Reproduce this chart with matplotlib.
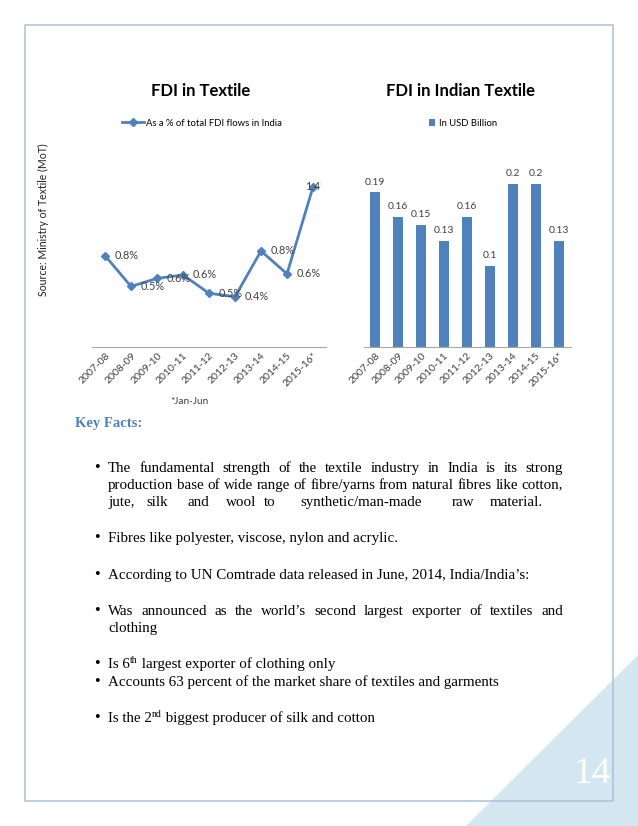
import matplotlib
matplotlib.use("Agg")
import matplotlib.pyplot as plt
from matplotlib.patches import Rectangle, Polygon

# chart data
years = ["2007-08", "2008-09", "2009-10", "2010-11", "2011-12",
         "2012-13", "2013-14", "2014-15", "2015-16*"]
fdi_share = [0.80, 0.53, 0.60, 0.63, 0.47, 0.44, 0.84, 0.64, 1.40]   # % of total FDI flows
fdi_usd = [0.19, 0.16, 0.15, 0.13, 0.16, 0.10, 0.20, 0.20, 0.13]     # USD billion

W, H = 638, 826
BLUE = "#4f81bd"
SANS = ["Lato", "DejaVu Sans"]
SERIF = ["Liberation Serif", "DejaVu Serif"]

fig = plt.figure(figsize=(W / 100, H / 100), dpi=100)


def fx(x):
    return x / W


def fy(y):
    return 1 - y / H


def box(l, t, r, b):
    return [fx(l), fy(b), (r - l) / W, (b - t) / H]


# page decoration
fig.patches.append(Polygon([(fx(638), fy(655)), (fx(466), fy(826)), (fx(638), fy(826))],
                           closed=True, transform=fig.transFigure,
                           facecolor="#d2e7f0", edgecolor="none", zorder=0))
fig.patches.append(Rectangle((fx(25), fy(801)), (613 - 25) / W, (801 - 25) / H,
                             transform=fig.transFigure, fill=False,
                             edgecolor="#a9c1de", lw=1.1, zorder=1))
fig.text(fx(611), fy(783), "14", color="white", fontsize=27, family=SERIF,
         ha="right", va="baseline")

# ---- left chart: line
ax1 = fig.add_axes(box(92, 140, 326, 347))
x = list(range(len(years)))
ax1.plot(x, fdi_share, color=BLUE, lw=2, marker="D", ms=4.5,
         label="As a % of total FDI flows in India")
ax1.set_xlim(-0.5, len(years) - 0.5)
ax1.set_ylim(0, 207 / 114.3)
clip = Rectangle((fx(92), fy(400)), (321 - 92) / W, 300 / H,
                 transform=fig.transFigure, visible=False)
fig.patches.append(clip)
for i, v in enumerate(fdi_share):
    dx = 7 if i < len(years) - 1 else -6
    t = ax1.annotate(f"{v:.1f}%", (i, v), xytext=(dx, 0), textcoords="offset points",
                     va="center", ha="left", fontsize=7.8, family=SANS, color="#404040",
                     annotation_clip=False)
    t.set_clip_path(clip)
    t.set_clip_on(True)
ax1.set_title("FDI in Textile", fontsize=12, fontweight="bold", family=SANS,
              pad=0, x=(201 - 92) / 234, y=1 + 44 / 207)
ax1.legend(loc="center", bbox_to_anchor=(fx(202), fy(123)), bbox_transform=fig.transFigure,
           frameon=False, prop={"family": SANS, "size": 6.8}, handlelength=2.4,
           handletextpad=0.2)

# ---- right chart: bars
ax2 = fig.add_axes(box(363.5, 140, 570.5, 347))
bars = ax2.bar(x, fdi_usd, width=0.4, color=BLUE, label="In USD Billion")
ax2.set_xlim(-0.5, len(years) - 0.5)
ax2.set_ylim(0, 207 / 815)
ax2.bar_label(bars, labels=[f"{v:g}" for v in fdi_usd], padding=4, fontsize=7.5,
              family=SANS, color="#404040")
ax2.set_title("FDI in Indian Textile", fontsize=12, fontweight="bold", family=SANS,
              pad=0, x=(461 - 363.5) / 207, y=1 + 44 / 207)
ax2.legend(loc="center", bbox_to_anchor=(fx(463), fy(123)), bbox_transform=fig.transFigure,
           frameon=False, prop={"family": SANS, "size": 6.8}, handlelength=0.7,
           handleheight=0.7, handletextpad=0.4)

for ax in (ax1, ax2):
    for s in ("left", "right", "top"):
        ax.spines[s].set_visible(False)
    ax.spines["bottom"].set_color("#a6a6a6")
    ax.spines["bottom"].set_linewidth(0.8)
    ax.set_yticks([])
    ax.set_xticks(x)
    ax.set_xticklabels(years, rotation=45, ha="right", rotation_mode="anchor",
                       fontsize=7.5, family=SANS, color="#404040")
    ax.tick_params(axis="x", length=0, pad=3)
    ax.set_facecolor("none")

fig.text(fx(190), fy(402), "*Jan-Jun", ha="center", va="center", fontsize=7.2,
         family=SANS, color="#404040")
fig.text(fx(43), fy(220), "Source: Ministry of Textile (MoT)", rotation=90,
         ha="center", va="center", fontsize=7.6, family=SANS, color="#202020")

# ---- text block
renderer = fig.canvas.get_renderer()
BODY = 10.8


def width(t):
    return t.get_window_extent(renderer).width


def runs(xpos, y, parts):
    # parts: (text, size, raise in px)
    for txt, size, up in parts:
        t = fig.text(fx(xpos), fy(y - up), txt, fontsize=size, family=SERIF,
                     va="baseline", ha="left")
        xpos += width(t)


def justify(line, x0, x1, y):
    words = line.split()
    items = [fig.text(0, 0, w, fontsize=BODY, family=SERIF, va="baseline") for w in words]
    ws = [width(t) for t in items]
    gap = (x1 - x0 - sum(ws)) / (len(words) - 1)
    xpos = x0
    for t, w in zip(items, ws):
        t.set_position((fx(xpos), fy(y)))
        xpos += w + gap


def bullet(y):
    fig.text(fx(97), fy(y), "\u2022", fontsize=BODY + 1, family=SERIF, va="baseline",
             ha="center")


fig.text(fx(75), fy(427), "Key Facts:", fontsize=10.5, fontweight="bold", family=SERIF,
         color="#4f81bd", va="baseline")

L, R = 108, 563
bullet(472)
justify("The fundamental strength of the textile industry in India is its strong", L, R, 472)
justify("production base of wide range of fibre/yarns from natural fibres like cotton,", L, R, 489)
for w, xp in [("jute,", 108), ("silk", 146), ("and", 188), ("wool", 226), ("to", 264),
              ("synthetic/man-made", 300), ("raw", 452), ("material.", 490)]:
    fig.text(fx(xp), fy(506), w, fontsize=BODY, family=SERIF, va="baseline")

bullet(542)
runs(L, 542, [("Fibres like polyester, viscose, nylon and acrylic.", BODY, 0)])
bullet(579)
runs(L, 579, [("According to UN Comtrade data released in June, 2014, India/India\u2019s:", BODY, 0)])
bullet(615)
justify("Was announced as the world\u2019s second largest exporter of textiles and", L, R, 615)
runs(L, 632, [("clothing", BODY, 0)])
bullet(668)
runs(L, 668, [("Is 6", BODY, 0), ("th", 7, 5), (" largest exporter of clothing only", BODY, 0)])
bullet(686)
runs(L, 686, [("Accounts 63 percent of the market share of textiles and garments", BODY, 0)])
bullet(722)
runs(L, 722, [("Is the 2", BODY, 0), ("nd", 7, 5), (" biggest producer of silk and cotton", BODY, 0)])

fig.savefig("out.png", dpi=100)
